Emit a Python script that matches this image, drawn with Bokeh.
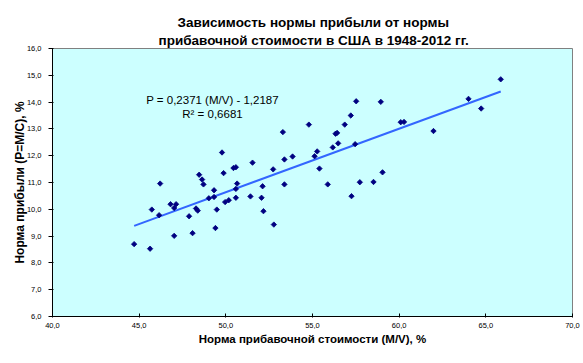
import math
from bokeh.plotting import figure
from bokeh.models import Label, FixedTicker, Title
from bokeh.embed import file_html
from bokeh.resources import INLINE

title_lines = ["Зависимость нормы прибыли от нормы",
               "прибавочной стоимости в США в 1948-2012 гг."]
x_label = "Норма прибавочной стоимости (M/V), %"
y_label = "Норма прибыли (P=M/C), %"
x_ticks = [40, 45, 50, 55, 60, 65, 70]
x_tick_labels = ["40,0", "45,0", "50,0", "55,0", "60,0", "65,0", "70,0"]
y_ticks = [6, 7, 8, 9, 10, 11, 12, 13, 14, 15, 16]
y_tick_labels = ["6,0", "7,0", "8,0", "9,0", "10,0", "11,0", "12,0", "13,0", "14,0", "15,0", "16,0"]

# Norm of surplus value (M/V), %
mv = [44.71, 45.63, 45.73, 46.15, 46.21, 46.81, 47.13, 47.02, 47.02, 47.88,
      48.08, 48.28, 48.38, 48.46, 48.63, 48.71, 49.02, 49.32, 49.32, 49.48,
      49.40, 49.78, 49.87, 49.96, 50.17, 50.44, 50.58, 50.65, 50.58, 50.58,
      51.54, 51.42, 52.12, 52.06, 52.17, 52.77, 52.73, 53.29, 53.38, 53.38,
      53.85, 54.79, 55.12, 55.27, 55.40, 55.88, 56.17, 56.33, 56.42, 56.48,
      56.86, 57.21, 57.52, 57.46, 57.25, 57.73, 58.94, 60.09, 60.28, 61.98,
      64.00, 64.73, 65.86, 59.04, 58.52]
# Norm of profit (P=M/C), %
profit = [8.70, 8.53, 9.99, 9.78, 10.96, 10.19, 10.19, 10.05, 9.01, 9.74,
          9.11, 10.03, 9.95, 11.29, 11.11, 10.93, 10.41, 10.71, 10.46, 9.99,
          9.30, 12.12, 11.35, 10.27, 10.34, 11.54, 11.57, 10.96, 10.76, 10.43,
          11.74, 10.48, 10.86, 10.43, 9.93, 9.43, 11.49, 12.88, 11.86, 10.93,
          11.97, 13.16, 11.98, 12.16, 11.52, 10.93, 12.31, 12.82, 12.85, 12.46,
          13.16, 13.50, 14.03, 12.43, 10.49, 11.01, 14.01, 13.25, 13.26, 12.92,
          14.12, 13.76, 14.85, 11.38, 11.02]

slope = 0.2371
intercept = -1.2187
eq_text = "P = 0,2371 (M/V) - 1,2187"
r2_text = "R² = 0,6681"

FONT = "Liberation Sans"

p = figure(width=580, height=360, x_range=(40, 70), y_range=(6, 16),
           output_backend="svg", toolbar_location=None, title=None,
           min_border_left=52, min_border_right=8, min_border_top=48,
           min_border_bottom=44)
p.background_fill_color = "#CCFFFF"
p.border_fill_color = "white"
p.outline_line_color = "#808080"
p.outline_line_width = 1
p.xgrid.visible = False
p.ygrid.visible = False

p.xaxis.ticker = FixedTicker(ticks=x_ticks)
p.xaxis.major_label_overrides = dict(zip(x_ticks, x_tick_labels))
p.yaxis.ticker = FixedTicker(ticks=y_ticks)
p.yaxis.major_label_overrides = dict(zip(y_ticks, y_tick_labels))
p.xaxis.axis_label = x_label
p.yaxis.axis_label = y_label

for ax in (p.xaxis, p.yaxis):
    ax.axis_line_color = "#000000"
    ax.major_tick_line_color = "#000000"
    ax.minor_tick_line_color = None
    ax.major_label_text_font = FONT
    ax.major_label_text_font_size = "7.5px"
    ax.major_label_text_color = "#000000"
    ax.axis_label_text_font = FONT
    ax.axis_label_text_font_style = "bold"
    ax.axis_label_text_color = "#000000"

p.xaxis.axis_label_text_font_size = "11.5px"
p.yaxis.axis_label_text_font_size = "12px"
p.xaxis.axis_label_standoff = 2
p.yaxis.axis_label_standoff = -3

p.xaxis.major_tick_out = 1
p.xaxis.major_tick_in = 3
p.xaxis.major_label_standoff = 5
p.yaxis.major_tick_out = 4
p.yaxis.major_tick_in = 1
p.yaxis.major_label_standoff = 7

# trend line
x_line = [min(mv), max(mv)]
y_line = [slope * v + intercept for v in x_line]
p.line(x_line, y_line, line_color="#3366FF", line_width=2)

p.scatter(mv, profit, marker="square", angle=math.pi / 4, size=3.8,
          fill_color="#000080", line_color="#000080", line_width=0.8)

p.add_layout(Label(x=160, y=216.7, x_units="screen", y_units="screen",
                   text=eq_text, text_align="center", text_baseline="middle",
                   text_font=FONT, text_font_size="11.5px", text_color="#000000"))
p.add_layout(Label(x=160, y=202.7, x_units="screen", y_units="screen",
                   text=r2_text, text_align="center", text_baseline="middle",
                   text_font=FONT, text_font_size="11.5px", text_color="#000000"))

# two-line chart title (line nearest the plot added first)
p.add_layout(Title(text=title_lines[1], align="left", offset=106, standoff=1,
                   text_font=FONT, text_font_size="13.5px", text_font_style="bold",
                   text_color="#000000"), "above")
p.add_layout(Title(text=title_lines[0], align="left", offset=125, standoff=2,
                   text_font=FONT, text_font_size="13.5px", text_font_style="bold",
                   text_color="#000000"), "above")

open("out.html", "w").write(file_html(p, INLINE))
